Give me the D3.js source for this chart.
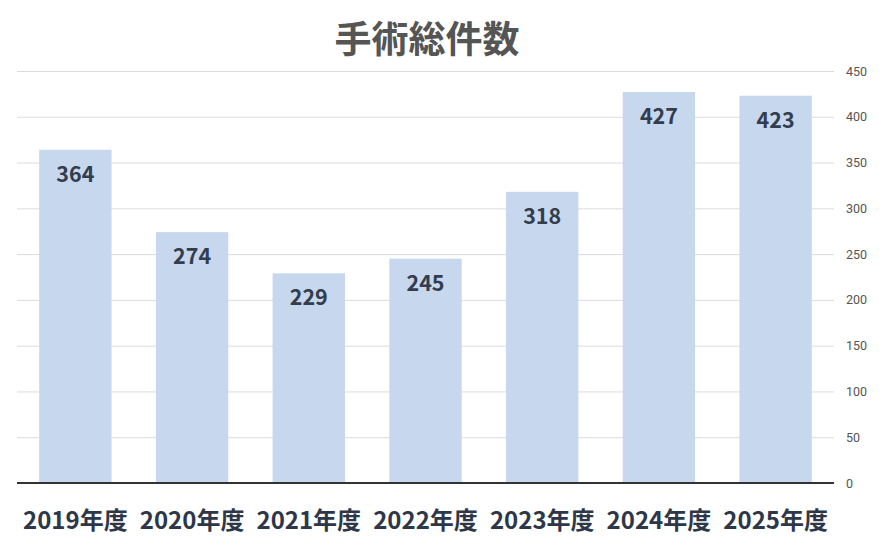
<!DOCTYPE html>
<html>
<head>
<meta charset="utf-8">
<script src="https://cdn.jsdelivr.net/npm/d3@7"></script>
<style>
  body { margin: 0; background: #fff; }
  svg { display: block; font-family: "Noto Sans CJK JP", "Noto Sans", sans-serif; }
</style>
</head>
<body>
<div id="chart"></div>
<script>
// データ
const categories = ["2019年度", "2020年度", "2021年度", "2022年度", "2023年度", "2024年度", "2025年度"];
const values = [364, 274, 229, 245, 318, 427, 423];
const yTicks = [0, 50, 100, 150, 200, 250, 300, 350, 400, 450];
const title = "手術総件数";

const width = 886;
const height = 546;
const marginLeft = 17;
const marginRight = 52;
const plotTop = 71;
const plotBottom = 483;

const x = d3.scaleBand()
  .domain(categories)
  .range([marginLeft, width - marginRight])
  .paddingInner(0.38)
  .paddingOuter(0.19);

const y = d3.scaleLinear()
  .domain([0, 450])
  .range([plotBottom, plotTop]);

const svg = d3.select("#chart").append("svg")
  .attr("width", width)
  .attr("height", height)
  .attr("viewBox", [0, 0, width, height]);

// タイトル
svg.append("text")
  .attr("x", 427)
  .attr("y", 53)
  .attr("text-anchor", "middle")
  .attr("fill", "#555")
  .attr("font-size", 37)
  .attr("font-weight", "bold")
  .text(title);

// グリッド線と右側の目盛り
svg.append("g")
  .attr("transform", `translate(${width - marginRight},0)`)
  .call(d3.axisRight(y).tickValues(yTicks).tickSize(-(width - marginRight - marginLeft)).tickPadding(12))
  .call(g => g.select(".domain").remove())
  .call(g => g.selectAll(".tick line").attr("stroke", "#dcdcdc"))
  .call(g => g.selectAll(".tick text")
    .attr("fill", "#555")
    .attr("font-size", 12.5)
    .attr("font-family", "Roboto, 'Noto Sans', sans-serif"));

// 棒
svg.append("g")
  .attr("fill", "#c6d7ee")
  .selectAll("rect")
  .data(values)
  .join("rect")
  .attr("x", (d, i) => x(categories[i]))
  .attr("y", d => y(d))
  .attr("width", x.bandwidth())
  .attr("height", d => y(0) - y(d));

// 値ラベル
svg.append("g")
  .selectAll("text")
  .data(values)
  .join("text")
  .attr("x", (d, i) => x(categories[i]) + x.bandwidth() / 2)
  .attr("y", d => y(d) + 32)
  .attr("text-anchor", "middle")
  .attr("fill", "#333d4d")
  .attr("font-size", 21.5)
  .attr("font-weight", "bold")
  .text(d => d);

// 下の軸
svg.append("g")
  .attr("transform", `translate(0,${plotBottom})`)
  .call(d3.axisBottom(x).tickSize(0).tickPadding(29))
  .call(g => g.select(".domain")
    .attr("stroke", "#333")
    .attr("stroke-width", 2)
    .attr("d", `M${marginLeft},0H${width - marginRight}`))
  .call(g => g.selectAll(".tick text")
    .attr("fill", "#2d3748")
    .attr("font-size", 24)
    .attr("font-weight", "bold")
    .attr("font-family", "'Noto Sans CJK JP', sans-serif"));
</script>
</body>
</html>
